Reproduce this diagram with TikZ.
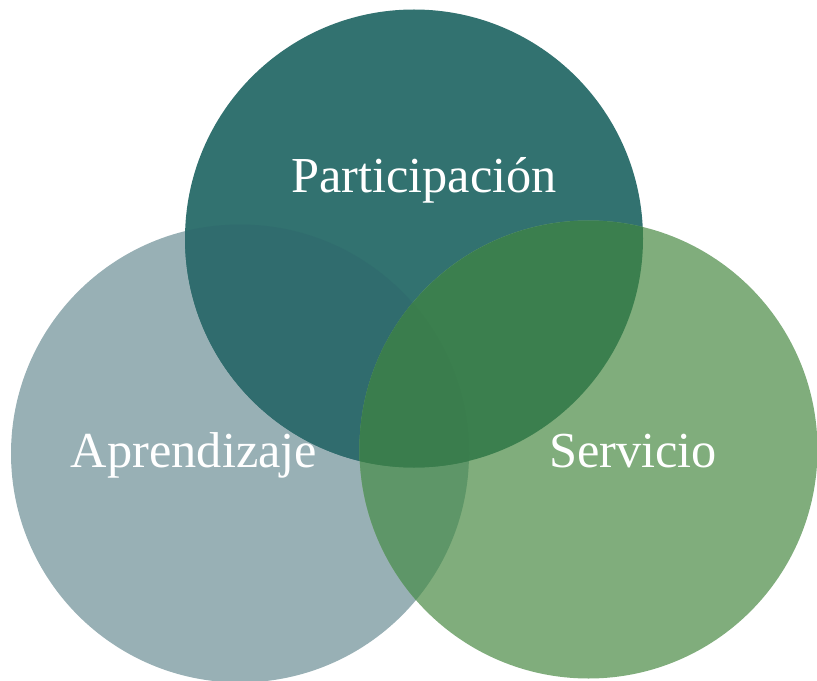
\documentclass[tikz,border=0pt]{standalone}
\usepackage{fontspec}
\setmainfont{Liberation Serif}
\usepackage{tikz}
\definecolor{aprcol}{HTML}{98B0B5}
\definecolor{parcol}{HTML}{327270}
\definecolor{sercol}{HTML}{80AD7C}
\definecolor{apparcol}{HTML}{306C6E}
\definecolor{apsercol}{HTML}{5E9668}
\definecolor{parsercol}{HTML}{3B7F4E}
\definecolor{allcol}{HTML}{3A7D4D}
\tikzset{label/.style={text=white,anchor=base,inner sep=0pt,font=\fontsize{43}{50}\selectfont}}

\begin{document}
\begin{tikzpicture}[x=0.03cm,y=-0.03cm]
%\tikzstyle{set}=[circle,minimum size=13.74cm]
\useasboundingbox (0,0) rectangle (817,681);
\coordinate (apr) at (240,453.5);
\coordinate (par) at (414,238.5);
\coordinate (ser) at (588.5,449.5);
\def\r{229}

\fill[aprcol] (apr) circle (\r);
\fill[parcol] (par) circle (\r);
\begin{scope}
    \clip (apr) circle (\r);
    \fill[apparcol] (par) circle (\r);
\end{scope}
\fill[sercol] (ser) circle (\r);
\begin{scope}
    \clip (ser) circle (\r);
    \fill[apsercol] (apr) circle (\r);
    \fill[parsercol] (par) circle (\r);
    \clip (apr) circle (\r);
    \fill[allcol] (par) circle (\r);
\end{scope}

\node[label] (p) at (424,193) {Participación};
\node[label] (a) at (194,467) {Aprendizaje};
\node[label] (s) at (633,467) {Servicio};
\end{tikzpicture}
\end{document}
